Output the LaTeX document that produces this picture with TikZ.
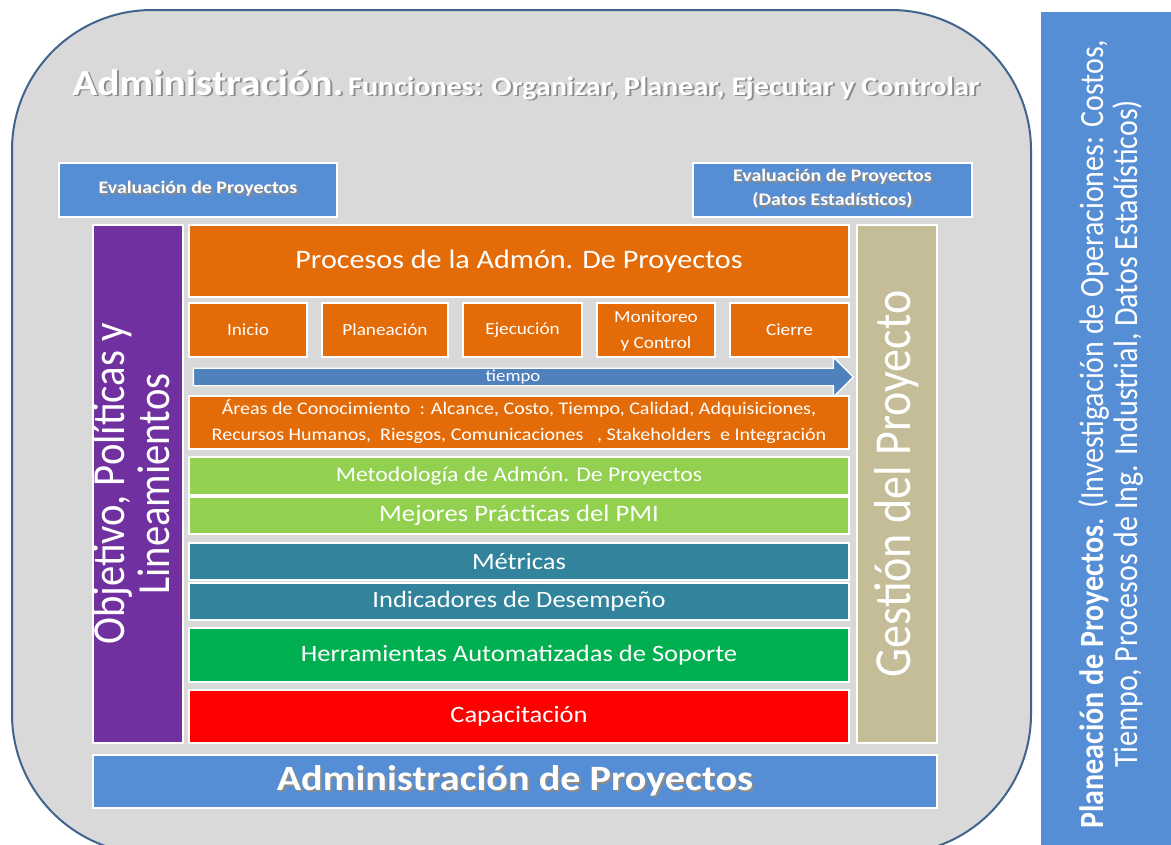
\documentclass[tikz,border=0pt]{standalone}
\usepackage{fontspec}
\setmainfont{Carlito}
\usetikzlibrary{shapes.arrows}
\definecolor{bgG}{HTML}{D9D9D9}
\definecolor{frameB}{HTML}{41648F}
\definecolor{blueB}{HTML}{558ED5}
\definecolor{purpleB}{HTML}{7030A0}
\definecolor{tanB}{HTML}{C4BD97}
\definecolor{orangeB}{HTML}{E36C09}
\definecolor{arrowB}{HTML}{4F81BD}
\definecolor{lgreenB}{HTML}{92D050}
\definecolor{tealB}{HTML}{31849B}
\definecolor{greenB}{HTML}{00B050}
\definecolor{redB}{HTML}{FF0000}
\newcommand\sx[1]{\scalebox{1.13}[1]{#1}}
\newcommand\shd[1]{\rlap{\kern1.3pt\raisebox{-1.3pt}{\color{black!45}#1}}{#1}}
\newcommand\fsz[2]{\fontsize{#1pt}{#2pt}\selectfont}
\begin{document}
\begin{tikzpicture}[x=0.75pt,y=-0.75pt,
  blk/.style={draw=white, line width=1.2pt, inner sep=0pt, outer sep=0pt, text=white, anchor=north west, align=center},
  sz/.style 2 args={minimum width=#1*0.75pt, minimum height=#2*0.75pt}]
\clip (0,0) rectangle (1171,844);
\fill[white] (0,0) rectangle (1171,844);
\draw[frameB, fill=bgG, line width=1.5pt, rounded corners=105pt] (12,10) rectangle (1031,854);
% right column
\node[blk, draw=none, fill=blueB, sz={144}{844}] (plan) at (1041,12)
  {\sx{\rotatebox{90}{\fsz{22.5}{21.5}\begin{tabular}{@{}c@{}}\textbf{Planeación de Proyectos}. (Investigación de Operaciones: Costos,\\Tiempo, Procesos de Ing. Industrial, Datos Estadísticos)\end{tabular}}}};
% title
\node[anchor=base west, inner sep=0pt, text=white] (title) at (72,95)
  {\sx{\shd{\fsz{27.5}{30}\bfseries Administración.} \shd{\fsz{20}{22}\bfseries Funciones: Organizar, Planear, Ejecutar y Controlar}}};
% evaluation boxes
\node[blk, fill=blueB, sz={278}{54}] (evalL) at (59,163)
  {\sx{\shd{\fsz{13.2}{16}\bfseries Evaluación de Proyectos}}};
\node[blk, fill=blueB, sz={279}{54}] (evalR) at (693,163)
  {\sx{\shd{\fsz{13.2}{18}\bfseries\begin{tabular}{@{}c@{}}Evaluación de Proyectos\\(Datos Estadísticos)\end{tabular}}}};
% side columns
\node[blk, fill=purpleB, sz={87}{518}] (obj) at (93,225)
  {\sx{\rotatebox{90}{\fsz{30.5}{29}\begin{tabular}{@{}c@{}}Objetivo, Políticas y\\Lineamientos\end{tabular}}}};
\node[blk, fill=tanB, sz={80}{518}] (gest) at (857,225)
  {\sx{\rotatebox{90}{\fsz{34.5}{36}Gestión del Proyecto}}};
% processes
\node[blk, fill=orangeB, sz={660}{72}] (proc) at (189,225)
  {\sx{\fsz{20}{24}Procesos de la Admón. De Proyectos}};
\node[blk, fill=orangeB, sz={118}{54}] (ini) at (189,303) {\sx{\fsz{12.75}{19.5}Inicio}};
\node[blk, fill=orangeB, sz={126}{54}] (pla) at (322,303) {\sx{\fsz{12.75}{19.5}Planeación}};
\node[blk, fill=orangeB, sz={119}{54}] (eje) at (463,303) {\sx{\fsz{12.75}{19.5}Ejecución}};
\node[blk, fill=orangeB, sz={118}{54}] (mon) at (597,303) {\sx{\fsz{12.75}{19.5}\begin{tabular}{@{}c@{}}Monitoreo\\y Control\end{tabular}}};
\node[blk, fill=orangeB, sz={119}{54}] (cie) at (730,303) {\sx{\fsz{12.75}{19.5}Cierre}};
% time arrow
\node[single arrow, fill=arrowB, draw=white, line width=1pt, inner sep=0pt, outer sep=0pt,
  minimum height=660*0.75pt, minimum width=40*0.75pt, single arrow head extend=10*0.75pt, text=white]
  (tiempo) at (519,377) {\sx{\fsz{12.5}{14}tiempo}\hspace*{9pt}};
% knowledge areas
\node[blk, fill=orangeB, sz={660}{53}] (areas) at (189,396)
  {\sx{\fsz{13.3}{19.5}\begin{tabular}{@{}c@{}}Áreas de Conocimiento\ \ : Alcance, Costo, Tiempo,\ Calidad,\ Adquisiciones,\\Recursos\ Humanos,\ \ Riesgos, Comunicaciones\ \ \ , Stakeholders\ \ e Integración\end{tabular}}};
% layers
\node[blk, fill=lgreenB, sz={660}{38}] (met) at (189,457) {\sx{\fsz{15.7}{18}Metodología de Admón. De Proyectos}};
\node[blk, fill=lgreenB, sz={660}{37}] (mej) at (189,497) {\sx{\fsz{17.7}{20}Mejores Prácticas del PMI}};
\node[blk, fill=tealB, sz={660}{37}] (metr) at (189,543) {\sx{\fsz{17.6}{20}Métricas}};
\node[blk, fill=tealB, sz={660}{37}] (ind) at (189,583) {\sx{\fsz{17.6}{20}Indicadores de Desempeño}};
\node[blk, fill=greenB, sz={660}{54}] (her) at (189,628) {\sx{\fsz{17.6}{20}Herramientas Automatizadas de Soporte}};
\node[blk, fill=redB, sz={660}{53}] (cap) at (189,690) {\sx{\fsz{17.6}{20}Capacitación}};
% bottom
\node[blk, fill=blueB, sz={844}{53}] (adm) at (93,755)
  {\sx{\shd{\fsz{26.7}{30}\bfseries Administración de Proyectos}}};
\end{tikzpicture}
\end{document}
